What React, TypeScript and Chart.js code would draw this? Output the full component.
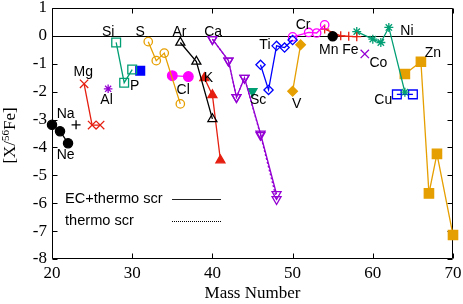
import React, { useEffect, useRef } from "react";
import { Chart, registerables } from "chart.js";
Chart.register(...registerables);

// ---- data (mass number / [X/56Fe]) ----
const neA = [20, 21, 22];
const neV = [-3.19, -3.42, -3.85];
const naA = [23];
const naV = [-3.19];
const mgA = [24, 25, 26];
const mgV = [-1.72, -3.2, -3.2];
const alA = [27];
const alV = [-1.9];
const siA = [28, 29, 30];
const siV = [-0.24, -1.68, -1.21];
const pA = [31];
const pV = [-1.25];
const sA = [32, 33, 34, 36];
const sV = [-0.21, -0.89, -0.62, -2.44];
const clA = [35, 37];
const clV = [-1.43, -1.46];
const arA = [36, 38, 40];
const arV = [-0.24, -0.92, -2.98];
const kA = [39, 40, 41];
const kV = [-1.51, -2.12, -4.46];
const caA = [40, 42, 43, 44, 46, 48];
const caV = [-0.12, -0.89, -2.2, -1.51, -3.51, -5.68];
const caThermoV = [-0.12, -0.89, -2.2, -1.51, -3.56, -5.86];
const scA = [45];
const scV = [-1.99];
const tiA = [46, 47, 48, 49, 50];
const tiV = [-1.04, -1.94, -0.36, -0.42, -0.15];
const vA = [50, 51];
const vV = [-1.99, -0.32];
const crA = [50, 52, 53, 54];
const crV = [-0.04, 0.12, 0.1, 0.39];
const mnA = [55];
const mnV = [-0.02];
const feA = [54, 56, 57, 58];
const feV = [0.24, 0.0, -0.02, -0.03];
const coA = [59];
const coV = [-0.65];
const niA = [58, 60, 61, 62, 64];
const niV = [0.15, -0.12, -0.24, 0.3, -2.02];
const cuA = [63, 65];
const cuV = [-2.1, -2.1];
const znA = [64, 66, 67, 68, 70];
const znV = [-1.37, -0.93, -5.65, -4.23, -7.14];

const xTicks = [20, 30, 40, 50, 60, 70];
const yTicks = [-8, -7, -6, -5, -4, -3, -2, -1, 0, 1];

// element labels: [text, mass, value]
const elemLabels: [string, number, number][] = [
  ["Na", 21.7, -2.8],
  ["Ne", 21.7, -4.26],
  ["Mg", 23.9, -1.31],
  ["Al", 26.8, -2.32],
  ["Si", 27.0, 0.14],
  ["P", 30.3, -1.82],
  ["S", 31.0, 0.14],
  ["Cl", 36.35, -1.96],
  ["Ar", 35.9, 0.14],
  ["K", 39.5, -1.51],
  ["Ca", 40.1, 0.14],
  ["Sc", 45.7, -2.3],
  ["Ti", 46.55, -0.32],
  ["V", 50.5, -2.46],
  ["Cr", 51.3, 0.39],
  ["Mn", 54.5, -0.5],
  ["Fe", 57.2, -0.5],
  ["Co", 60.7, -0.99],
  ["Ni", 64.25, 0.15],
  ["Cu", 61.3, -2.29],
  ["Zn", 67.5, -0.63],
];

const legendItems = ["EC+thermo scr", "thermo scr"];

const RED = "#e51e10";
const PURPLE = "#9400d3";
const GREEN = "#009e73";
const BLUE = "#0000ff";
const ORANGE = "#e69f00";
const MAGENTA = "#ff00ff";
const BLACK = "#000000";

type S = {
  a: number[];
  v: number[];
  color: string;
  style: string;
  fill: boolean;
  rot?: number;
  r?: number;
  dash?: number[];
};

const seriesList: S[] = [
  { a: neA, v: neV, color: BLACK, style: "circle", fill: true, r: 4.6 },
  { a: naA, v: naV, color: BLACK, style: "cross", fill: false, r: 4.5 },
  { a: mgA, v: mgV, color: RED, style: "crossRot", fill: false, r: 5.9 },
  { a: alA, v: alV, color: PURPLE, style: "star", fill: false, r: 4.3 },
  { a: siA, v: siV, color: GREEN, style: "rect", fill: false, r: 6.2 },
  { a: pA, v: pV, color: BLUE, style: "rect", fill: true, r: 6.2 },
  { a: sA, v: sV, color: ORANGE, style: "circle", fill: false, r: 4.2 },
  { a: clA, v: clV, color: MAGENTA, style: "circle", fill: true, r: 4.8 },
  { a: arA, v: arV, color: BLACK, style: "triangle", fill: false, r: 5.2 },
  { a: kA, v: kV, color: RED, style: "triangle", fill: true, r: 5.2 },
  { a: caA, v: caV, color: PURPLE, style: "triangle", fill: false, rot: 180, r: 5.2 },
  { a: caA, v: caThermoV, color: PURPLE, style: "triangle", fill: false, rot: 180, r: 5.2, dash: [2, 2] },
  { a: scA, v: scV, color: GREEN, style: "triangle", fill: true, rot: 180, r: 5.2 },
  { a: tiA, v: tiV, color: BLUE, style: "rectRot", fill: false, r: 4.6 },
  { a: vA, v: vV, color: ORANGE, style: "rectRot", fill: true, r: 4.8 },
  { a: crA, v: crV, color: MAGENTA, style: "circle", fill: false, r: 4.2 },
  { a: mnA, v: mnV, color: BLACK, style: "circle", fill: true, r: 4.6 },
  { a: feA, v: feV, color: RED, style: "cross", fill: false, r: 4.5 },
  { a: coA, v: coV, color: PURPLE, style: "crossRot", fill: false, r: 5.9 },
  { a: niA, v: niV, color: GREEN, style: "star", fill: false, r: 4.5 },
  { a: cuA, v: cuV, color: BLUE, style: "rect", fill: false, r: 6.2 },
  { a: znA, v: znV, color: ORANGE, style: "rect", fill: true, r: 6.6 },
];

const SANS = "'Liberation Sans', Arial, sans-serif";
const SERIF = "'Liberation Serif', 'Times New Roman', serif";

const decorPlugin = {
  id: "decor",
  beforeDatasetsDraw(chart: any) {
    const { ctx, chartArea: ca, scales } = chart;
    const x = scales.x;
    const y = scales.y;
    ctx.save();
    ctx.strokeStyle = "#000";
    ctx.lineWidth = 1;
    const L = Math.round(ca.left) + 0.5;
    const R = Math.round(ca.right) - 0.5;
    const T = Math.round(ca.top) + 0.5;
    const B = Math.round(ca.bottom) - 0.5;
    // zero line
    const y0 = Math.round(y.getPixelForValue(0)) + 0.5;
    ctx.beginPath();
    ctx.moveTo(L, y0);
    ctx.lineTo(R, y0);
    ctx.stroke();
    // frame
    ctx.beginPath();
    ctx.rect(L, T, R - L, B - T);
    ctx.stroke();
    const tl = 5;
    ctx.beginPath();
    yTicks.forEach((v) => {
      const py = Math.round(y.getPixelForValue(v)) + 0.5;
      ctx.moveTo(L, py);
      ctx.lineTo(L + tl, py);
      ctx.moveTo(R, py);
      ctx.lineTo(R - tl, py);
    });
    xTicks.forEach((v) => {
      const px = Math.round(x.getPixelForValue(v)) + 0.5;
      ctx.moveTo(px, B);
      ctx.lineTo(px, B - tl);
      ctx.moveTo(px, T);
      ctx.lineTo(px, T + tl);
    });
    ctx.stroke();
    ctx.restore();
  },
  afterDraw(chart: any) {
    const { ctx, chartArea: ca, scales } = chart;
    const x = scales.x;
    const y = scales.y;
    ctx.save();
    // element labels
    ctx.fillStyle = "#000";
    ctx.font = `14px ${SANS}`;
    ctx.textAlign = "center";
    ctx.textBaseline = "middle";
    elemLabels.forEach(([t, m, v]) => {
      ctx.fillText(t, x.getPixelForValue(m), y.getPixelForValue(v));
    });
    // legend
    ctx.textAlign = "left";
    ctx.font = `14.6px ${SANS}`;
    const ly = [198.5, 220.5];
    legendItems.forEach((t, i) => {
      ctx.fillText(t, 65, ly[i]);
      ctx.beginPath();
      ctx.strokeStyle = i === 0 ? "#222" : "#000";
      ctx.lineWidth = 1;
      ctx.setLineDash(i === 0 ? [] : [1, 1]);
      ctx.moveTo(172, Math.round(ly[i]) + 0.5);
      ctx.lineTo(221, Math.round(ly[i]) + 0.5);
      ctx.stroke();
    });
    ctx.setLineDash([]);
    // x title
    ctx.textAlign = "center";
    ctx.font = `17px ${SERIF}`;
    ctx.fillText("Mass Number", (ca.left + ca.right) / 2, 294);
    // y title with superscript
    ctx.translate(11, (ca.top + ca.bottom) / 2 + 2);
    ctx.rotate(-Math.PI / 2);
    const big = `17px ${SERIF}`;
    const small = `11px ${SERIF}`;
    ctx.font = big;
    const w1 = ctx.measureText("[X/").width;
    const w3 = ctx.measureText("Fe]").width;
    ctx.font = small;
    const w2 = ctx.measureText("56").width;
    let cx = -(w1 + w2 + w3) / 2;
    ctx.textAlign = "left";
    ctx.textBaseline = "middle";
    ctx.font = big;
    ctx.fillText("[X/", cx, 0);
    cx += w1;
    ctx.font = small;
    ctx.fillText("56", cx, -5);
    cx += w2;
    ctx.font = big;
    ctx.fillText("Fe]", cx, 0);
    ctx.restore();
  },
};

export default function App() {
  const ref = useRef<HTMLCanvasElement | null>(null);
  useEffect(() => {
    if (!ref.current) return;
    const datasets = seriesList.map((s) => ({
      data: s.a.map((m, i) => ({ x: m, y: s.v[i] })),
      showLine: true,
      clip: false,
      borderColor: s.color,
      backgroundColor: s.fill ? s.color : "rgba(0,0,0,0)",
      borderWidth: 1.3,
      borderDash: s.dash || [],
      pointStyle: s.style,
      pointRadius: s.r || 4.5,
      pointRotation: s.rot || 0,
      pointBorderColor: s.color,
      pointBackgroundColor: s.fill ? s.color : "rgba(0,0,0,0)",
      pointBorderWidth: 1.3,
      tension: 0,
    }));
    const chart = new Chart(ref.current, {
      type: "scatter",
      data: { datasets },
      plugins: [decorPlugin],
      options: {
        animation: false,
        responsive: true,
        maintainAspectRatio: false,
        layout: { padding: { top: 7, right: 10, left: 0, bottom: 0 } },
        plugins: { legend: { display: false }, tooltip: { enabled: false } },
        scales: {
          x: {
            type: "linear",
            min: 20,
            max: 70,
            afterFit: (s: any) => {
              s.height = 45;
              s.paddingLeft = 0;
              s.paddingRight = 0;
            },
            afterBuildTicks: (s: any) => {
              s.ticks = xTicks.map((v) => ({ value: v }));
            },
            grid: { display: false, drawTicks: false },
            border: { display: false },
            ticks: {
              color: "#000",
              font: { family: SERIF, size: 17 },
              padding: 4,
              callback: (v: any) => String(v),
            },
          },
          y: {
            type: "linear",
            min: -8,
            max: 1,
            afterFit: (s: any) => {
              s.width = 52;
              s.paddingTop = 0;
              s.paddingBottom = 0;
            },
            afterBuildTicks: (s: any) => {
              s.ticks = yTicks.map((v) => ({ value: v }));
            },
            grid: { display: false, drawTicks: false },
            border: { display: false },
            ticks: {
              color: "#000",
              font: { family: SERIF, size: 17 },
              padding: 5,
              callback: (v: any) => String(v),
            },
          },
        },
      },
    });
    return () => chart.destroy();
  }, []);
  return (
    <div style={{ position: "absolute", left: 0, top: 0, width: 463, height: 304, background: "#fff" }}>
      <canvas ref={ref} />
    </div>
  );
}
